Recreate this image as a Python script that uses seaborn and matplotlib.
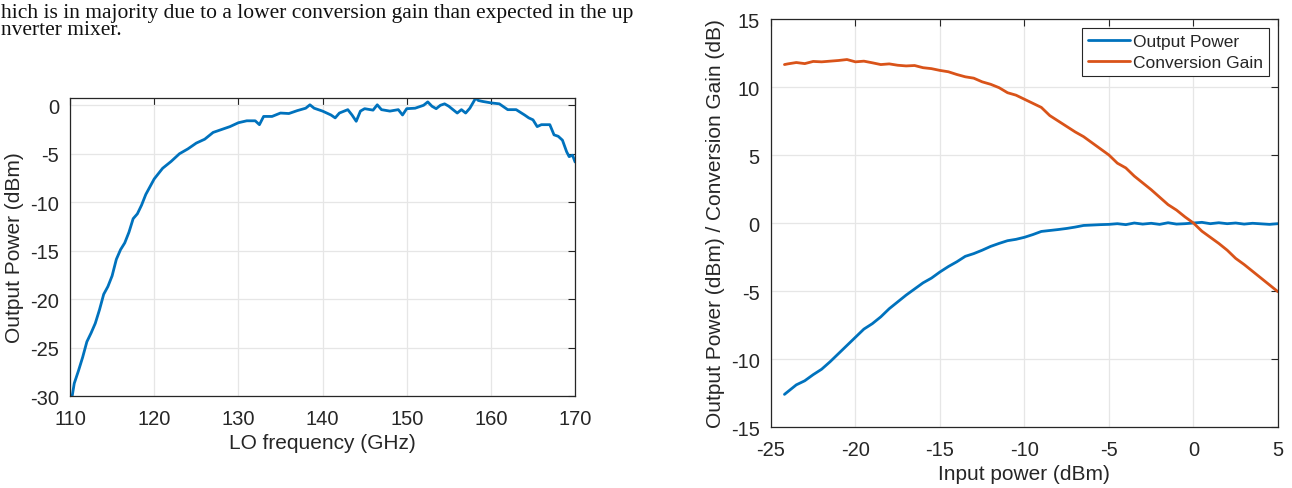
import matplotlib
matplotlib.use("Agg")
import matplotlib.pyplot as plt
import seaborn as sns
import pandas as pd

# --- left panel: output power vs LO frequency ---
lo_freq = [110.2, 110.5, 111, 111.5, 112, 112.5, 113, 113.5, 114, 114.5,
           115, 115.5, 116, 116.5, 117, 117.5, 118, 118.5, 119, 119.5,
           120, 121, 122, 123, 124, 125, 126, 127, 128, 129, 130,
           131, 132, 132.5, 133, 134, 135, 136, 137, 138, 138.5,
           139, 140, 141, 141.5, 142, 143, 143.5, 144, 144.5, 145,
           146, 146.5, 147, 148, 149, 149.5, 150, 151, 152, 152.5,
           153, 153.5, 154, 154.5, 155, 156, 156.5, 157, 157.5, 158.2,
           158.5, 159, 160, 161, 162, 163, 164, 164.5, 165, 165.5,
           166, 167, 167.5, 168, 168.5, 169, 169.3, 169.7, 170]
lo_out_power = [-30.3, -28.7, -27.4, -26.0, -24.4, -23.5, -22.5, -21.1, -19.5, -18.7,
                -17.6, -15.9, -14.9, -14.2, -13.1, -11.7, -11.2, -10.3, -9.2, -8.4,
                -7.6, -6.5, -5.8, -5.0, -4.5, -3.9, -3.5, -2.8, -2.5, -2.2, -1.8,
                -1.6, -1.6, -2.0, -1.15, -1.15, -0.8, -0.85, -0.55, -0.3, 0.05,
                -0.3, -0.6, -1.0, -1.3, -0.8, -0.45, -1.0, -1.65, -0.6, -0.35,
                -0.5, 0.05, -0.45, -0.6, -0.45, -1.0, -0.35, -0.3, 0.0, 0.35,
                -0.1, -0.35, 0.0, 0.15, -0.1, -0.8, -0.45, -0.8, -0.3, 0.75,
                0.5, 0.4, 0.25, 0.15, -0.45, -0.45, -1.0, -1.3, -1.5, -2.2,
                -2.0, -2.0, -3.05, -3.2, -3.6, -4.8, -5.3, -5.15, -5.85]

# --- right panel: output power and conversion gain vs input power ---
in_power = [-24.2, -24.0, -23.5, -23.0, -22.5, -22.0, -21.5, -21.0, -20.5, -20.0,
            -19.5, -19.0, -18.5, -18.0, -17.5, -17.0, -16.5, -16.0, -15.5, -15.0,
            -14.5, -14.0, -13.5, -13.0, -12.5, -12.0, -11.5, -11.0, -10.5, -10.0,
            -9.5, -9.0, -8.5, -8.0, -7.5, -7.0, -6.5, -6.0, -5.5, -5.0,
            -4.5, -4.0, -3.5, -3.0, -2.5, -2.0, -1.5, -1.0, -0.5, 0.0,
            0.5, 1.0, 1.5, 2.0, 2.5, 3.0, 3.5, 4.0, 4.5, 5.0]
out_power = [-12.6, -12.4, -11.9, -11.6, -11.15, -10.75, -10.2, -9.6, -9.0, -8.4,
             -7.8, -7.4, -6.9, -6.3, -5.8, -5.3, -4.85, -4.4, -4.05, -3.6,
             -3.2, -2.85, -2.45, -2.25, -2.0, -1.72, -1.5, -1.3, -1.2, -1.05,
             -0.85, -0.62, -0.55, -0.48, -0.4, -0.3, -0.18, -0.15, -0.12, -0.1,
             -0.05, -0.12, 0.0, -0.08, -0.02, -0.1, 0.02, -0.08, -0.05, 0.0,
             0.05, -0.05, 0.02, -0.05, 0.0, -0.08, -0.02, -0.06, -0.1, -0.05]
conv_gain = [11.65, 11.7, 11.8, 11.72, 11.88, 11.85, 11.9, 11.95, 12.02, 11.85,
             11.9, 11.78, 11.65, 11.7, 11.6, 11.55, 11.58, 11.42, 11.35, 11.22,
             11.12, 10.92, 10.75, 10.65, 10.38, 10.2, 9.95, 9.58, 9.4, 9.1,
             8.8, 8.5, 7.9, 7.5, 7.1, 6.7, 6.35, 5.9, 5.45, 5.0,
             4.4, 4.05, 3.45, 2.95, 2.45, 1.9, 1.35, 0.95, 0.45, 0.0,
             -0.6, -1.05, -1.5, -2.0, -2.6, -3.05, -3.55, -4.05, -4.55, -5.05]

BLUE = "#0072BD"
ORANGE = "#D95319"
DARK = "#262626"

sns.set_style("white")
plt.rcParams["font.family"] = ["Liberation Sans", "DejaVu Sans"]
plt.rcParams["axes.unicode_minus"] = False

df_lo = pd.DataFrame({"freq": lo_freq, "pout": lo_out_power})
df_in = pd.DataFrame({"pin": in_power + in_power,
                      "val": out_power + conv_gain,
                      "series": ["Output Power"] * len(in_power) + ["Conversion Gain"] * len(in_power)})

fig = plt.figure(figsize=(12.92, 4.89), dpi=100)

# paper text above the figure
serif = ["Liberation Serif", "DejaVu Serif"]
fig.text(0.001, 0.972, "hich is in majority due to a lower conversion gain than expected in the up",
         family=serif, fontsize=15.5, va="center", ha="left", color="#111111")
fig.text(0.001, 0.938, "nverter mixer.",
         family=serif, fontsize=15.5, va="center", ha="left", color="#111111")


def style_axes(ax, xpad, ypad):
    ax.grid(True, color="#e6e6e6", linewidth=0.9)
    ax.set_axisbelow(True)
    for s in ax.spines.values():
        s.set_color(DARK)
        s.set_linewidth(0.9)
    ax.tick_params(direction="in", length=5, width=0.8, color=DARK, labelcolor=DARK,
                   labelsize=14.5, top=True, right=True)
    ax.tick_params(axis="x", pad=xpad)
    ax.tick_params(axis="y", pad=ypad)


ax1 = fig.add_axes([0.0542, 0.1881, 0.3909, 0.6094])
sns.lineplot(data=df_lo, x="freq", y="pout", ax=ax1, color=BLUE, linewidth=2, estimator=None)
ax1.set_xlim(110, 170)
ax1.set_ylim(-30, 0.75)
ax1.set_xticks([110, 120, 130, 140, 150, 160, 170])
ax1.set_yticks([-30, -25, -20, -15, -10, -5, 0])
ax1.set_xlabel("LO frequency (GHz)", fontsize=15, color=DARK, labelpad=4)
ax1.set_ylabel("Output Power (dBm)", fontsize=15, color=DARK, labelpad=4)
style_axes(ax1, 9, 8)

ax2 = fig.add_axes([0.5967, 0.1247, 0.3924, 0.8344])
sns.lineplot(data=df_in, x="pin", y="val", hue="series", ax=ax2,
             palette={"Output Power": BLUE, "Conversion Gain": ORANGE},
             linewidth=2, estimator=None)
ax2.set_xlim(-25, 5)
ax2.set_ylim(-15, 15)
ax2.set_xticks([-25, -20, -15, -10, -5, 0, 5])
ax2.set_yticks([-15, -10, -5, 0, 5, 10, 15])
ax2.set_xlabel("Input power (dBm)", fontsize=15, color=DARK, labelpad=4)
ax2.set_ylabel("Output Power (dBm) / Conversion Gain (dB)", fontsize=15, color=DARK, labelpad=4)
style_axes(ax2, 9, 8)
leg = ax2.legend(loc="upper right", fontsize=12.5, frameon=True, fancybox=False,
                 framealpha=1, edgecolor=DARK, handlelength=2.4, handletextpad=0.2,
                 borderaxespad=0.5, borderpad=0.35, labelspacing=0.35)
leg.get_frame().set_linewidth(0.8)

fig.savefig("out.png", dpi=100)
